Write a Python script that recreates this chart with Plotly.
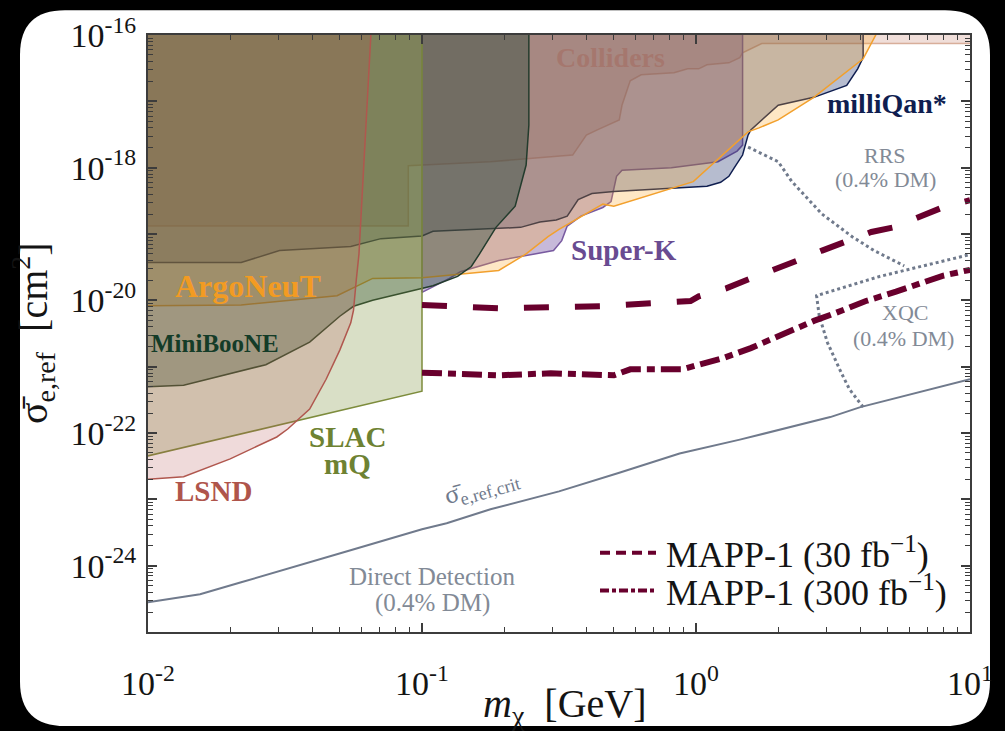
import numpy as np
import plotly.graph_objects as go

# ---------------- data (log10 of m_chi [GeV], log10 of sigma [cm^2]) ----------------
coll_x = [-2.0, -1.05, -1.05, -0.75, -0.45, -0.40, -0.36, -0.28, -0.27, -0.25, -0.24, -0.20, -0.08, -0.03, 0.01, 0.04, 0.12, 0.16, 0.17, 0.24, 1.0]
coll_y = [-18.88, -18.88, -17.97, -17.91, -17.81, -17.51, -17.43, -17.28, -17.06, -16.81, -16.69, -16.60, -16.57, -16.51, -16.51, -16.45, -16.42, -16.34, -16.27, -16.13, -16.13]

mq_x = [-2.0, -1.66, -1.52, -1.26, -1.15, -1.00, -0.96, -0.64, -0.57, -0.51, -0.47, -0.43, -0.38, -0.30, -0.09, 0.04, 0.09, 0.12, 0.14, 0.17, 0.19, 0.20, 0.30, 0.43, 0.55, 0.59, 0.61, 0.61]
mq_y = [-19.43, -19.43, -19.25, -19.19, -19.07, -19.03, -18.96, -18.90, -18.82, -18.79, -18.73, -18.48, -18.39, -18.36, -18.31, -18.28, -18.22, -18.13, -18.00, -17.81, -17.51, -17.43, -17.06, -16.94, -16.76, -16.51, -16.34, -16.0]

argo_x = [-2.0, -1.66, -1.31, -1.18, -1.00, -0.72, -0.62, -0.54, -0.50, -0.34, -0.30, -0.01, 0.19, 0.23, 0.30, 0.43, 0.61, 0.72]
argo_y = [-20.09, -20.07, -19.93, -19.67, -19.66, -19.55, -19.30, -19.04, -18.93, -18.55, -18.58, -18.21, -17.46, -17.40, -17.28, -16.94, -16.36, -16.0]

sk_x = [-1.00, -0.90, -0.86, -0.72, -0.52, -0.49, -0.47, -0.42, -0.34, -0.31, -0.29, -0.27, -0.09, 0.08, 0.15, 0.17, 0.17]
sk_y = [-19.88, -19.67, -19.57, -19.40, -19.25, -19.10, -18.88, -18.73, -18.60, -18.51, -18.13, -18.04, -18.00, -17.91, -17.75, -17.66, -16.0]

mb_x = [-2.0, -1.87, -1.57, -1.41, -1.30, -1.25, -1.18, -1.00, -0.96, -0.87, -0.82, -0.79, -0.73, -0.66, -0.62, -0.61, -0.61]
mb_y = [-21.34, -21.28, -20.97, -20.63, -20.24, -20.09, -20.00, -19.82, -19.78, -19.64, -19.49, -19.30, -18.90, -18.58, -17.96, -17.36, -16.0]

slac_x = [-2.0, -1.0, -1.0]
slac_y = [-22.54, -21.37, -16.0]

lsnd_x = [-2.0, -1.87, -1.70, -1.53, -1.49, -1.41, -1.35, -1.30, -1.26, -1.25, -1.24, -1.23, -1.18]
lsnd_y = [-22.75, -22.66, -22.39, -22.06, -21.94, -21.64, -21.19, -20.75, -20.34, -20.15, -19.70, -19.30, -16.0]

mapp30_x = [-1.0, -0.72, -0.35, -0.17, -0.02, 0.01, 0.11, 0.20, 0.30, 0.37, 0.46, 0.55, 0.64, 0.72, 0.82, 0.90, 1.0]
mapp30_y = [-20.07, -20.12, -20.09, -20.04, -20.01, -19.94, -19.82, -19.67, -19.52, -19.40, -19.25, -19.12, -18.97, -18.90, -18.73, -18.60, -18.49]

mapp300_x = [-1.0, -0.91, -0.72, -0.53, -0.35, -0.30, -0.28, -0.24, -0.17, -0.05, 0.01, 0.10, 0.20, 0.31, 0.43, 0.51, 0.62, 0.73, 0.82, 0.90, 1.0]
mapp300_y = [-21.09, -21.10, -21.13, -21.10, -21.12, -21.13, -21.10, -21.04, -21.04, -21.04, -20.97, -20.87, -20.72, -20.52, -20.31, -20.19, -20.01, -19.87, -19.75, -19.63, -19.54]

dd_x = [-2.0, -1.81, -1.66, -1.45, -1.27, -1.00, -0.91, -0.75, -0.50, -0.28, -0.06, 0.16, 0.49, 0.60, 1.0]
dd_y = [-24.55, -24.43, -24.25, -24.00, -23.78, -23.45, -23.36, -23.15, -22.88, -22.60, -22.31, -22.10, -21.76, -21.61, -21.19]

rrs_x = [0.19, 0.30, 0.35, 0.46, 0.57, 0.65, 0.76]
rrs_y = [-17.69, -17.91, -18.21, -18.70, -19.04, -19.25, -19.48]

xqc_x = [0.61, 0.56, 0.53, 0.48, 0.45, 0.44, 0.67, 0.99, 1.0]
xqc_y = [-21.61, -21.34, -21.09, -20.64, -20.24, -19.93, -19.64, -19.33, -19.31]

y_tick_exp = [-25, -24, -23, -22, -21, -20, -19, -18, -17, -16]
x_tick_exp = [-2, -1, 0, 1]

legend_names = ["MAPP-1 (30 fb<sup>−1</sup>)", "MAPP-1 (300 fb<sup>−1</sup>)"]

SERIF = "Liberation Serif, DejaVu Serif, serif"
TOP = -15.5


def poly_top(xs, ys):
    # lower boundary; close upward through top of plot
    px = list(xs)
    py = list(ys)
    if px[0] <= -2.0:
        px[0] = -2.2
    if py[-1] >= -16.0:
        py[-1] = TOP
    else:
        px.append(px[-1] + (0.2 if px[-1] >= 1.0 else 0))
        py.append(py[-1])
        px.append(px[-1])
        py.append(TOP)
    px.append(px[0])
    py.append(TOP)
    px.append(px[0])
    py.append(py[0])
    return [10 ** v for v in px], [10 ** v for v in py]


fig = go.Figure()

regions = [
    (coll_x, coll_y, "rgba(200,135,120,0.28)", "rgba(195,130,100,0.6)", 1.5),
    (sk_x, sk_y, "rgba(100,60,150,0.36)", "rgba(120,90,160,1)", 1.5),
    (mq_x, mq_y, "rgba(20,40,100,0.31)", "rgba(15,30,80,1)", 1.5),
    (argo_x, argo_y, "rgba(250,165,40,0.27)", "rgba(242,160,45,1)", 1.5),
    (mb_x, mb_y, "rgba(30,65,50,0.38)", "rgba(35,60,45,1)", 1.5),
    (slac_x, slac_y, "rgba(120,140,50,0.28)", "rgba(125,140,60,1)", 1.5),
    (lsnd_x, lsnd_y, "rgba(180,80,80,0.21)", "rgba(176,87,78,1)", 1.5),
]
for xs, ys, fc, lc, lw in regions:
    px, py = poly_top(xs, ys)
    fig.add_trace(go.Scatter(x=px, y=py, mode="lines", fill="toself", fillcolor=fc,
                             line=dict(color=lc, width=lw), showlegend=False, hoverinfo="skip"))

GRAY = "rgb(112,122,140)"
fig.add_trace(go.Scatter(x=[10 ** v for v in dd_x], y=[10 ** v for v in dd_y], mode="lines",
                         line=dict(color=GRAY, width=2), showlegend=False))
fig.add_trace(go.Scatter(x=[10 ** v for v in rrs_x], y=[10 ** v for v in rrs_y], mode="lines",
                         line=dict(color=GRAY, width=3, dash="3px,3px"), showlegend=False))
fig.add_trace(go.Scatter(x=[10 ** v for v in xqc_x], y=[10 ** v for v in xqc_y], mode="lines",
                         line=dict(color=GRAY, width=3, dash="3px,3px"), showlegend=False))

WINE = "rgb(105,0,45)"
DASH30 = "25px,26px"
DASH300 = "20px,6px,8px,6px"
fig.add_trace(go.Scatter(x=[10 ** v for v in mapp30_x], y=[10 ** v for v in mapp30_y], mode="lines",
                         line=dict(color=WINE, width=6, dash=DASH30), name=legend_names[0], showlegend=False))
fig.add_trace(go.Scatter(x=[10 ** v for v in mapp300_x], y=[10 ** v for v in mapp300_y], mode="lines",
                         line=dict(color=WINE, width=6, dash=DASH300), name=legend_names[1], showlegend=False))

# ---------------- layout helpers ----------------
W, H = 1005, 731
L, R, T, B = 148, 970, 29, 632


def px2paper(x, y):
    return (x - L) / (R - L), (B - y) / (B - T)


def plabel(text, x, y, color, size, bold=False, angle=0, xanchor="center"):
    t = f"<b>{text}</b>" if bold else text
    a, b = px2paper(x, y)
    fig.add_annotation(x=a, y=b, xref="paper", yref="paper", text=t, showarrow=False,
                       xanchor=xanchor, yanchor="middle",
                       font=dict(family=SERIF, size=size, color=color), textangle=angle)


LG = "rgb(130,138,150)"
plabel("Colliders", 610, 52, "rgba(165,115,105,0.8)", 28, True)
plabel("milliQan*", 887, 98, "rgb(15,30,80)", 28, True)
plabel("RRS", 885, 151, LG, 22)
plabel("(0.4% DM)", 885, 175, LG, 22)
plabel("Super-K", 624, 246, "rgb(105,75,145)", 29, True)
plabel("ArgoNeuT", 248, 283, "rgb(242,155,35)", 32, True)
plabel("MiniBooNE", 215, 341, "rgb(20,60,40)", 25, True)
plabel("SLAC", 347, 435, "rgb(110,130,50)", 29, True)
plabel("mQ", 347, 462, "rgb(110,130,50)", 29, True)
plabel("LSND", 213, 490, "rgb(175,85,75)", 29, True)
plabel("XQC", 905, 309, LG, 22)
plabel("(0.4% DM)", 903, 336, LG, 22)
plabel("σ̄<sub>e,ref,crit</sub>", 482, 486, GRAY, 26, angle=-16)
plabel("Direct Detection", 432, 576, LG, 25)
plabel("(0.4% DM)", 432, 603, LG, 25)

# legend drawn by hand
for i, (nm, dsh) in enumerate(zip(legend_names, ["10px,6px", "9px,3px,4px,3px"])):
    yy = 552 + 38 * i
    a0, b0 = px2paper(600, yy)
    a1, _ = px2paper(656, yy)
    fig.add_shape(type="line", xref="paper", yref="paper", x0=a0, x1=a1, y0=b0, y1=b0,
                  line=dict(color=WINE, width=4, dash=dsh))
    plabel(nm, 664, yy, "rgb(20,20,20)", 36, xanchor="left")


def rounded(x0, y0, x1, y1, r):
    def P(x, y):
        a, b = px2paper(x, y)
        return f"{a:.5f},{b:.5f}"
    d = f"M {P(x0 + r, y0)} L {P(x1 - r, y0)} Q {P(x1, y0)} {P(x1, y0 + r)} "
    d += f"L {P(x1, y1 - r)} Q {P(x1, y1)} {P(x1 - r, y1)} "
    d += f"L {P(x0 + r, y1)} Q {P(x0, y1)} {P(x0, y1 - r)} "
    d += f"L {P(x0, y0 + r)} Q {P(x0, y0)} {P(x0 + r, y0)} Z"
    return d


fig.add_shape(type="path", xref="paper", yref="paper", path=rounded(20, 4, 990, 727, 45),
              fillcolor="white", line=dict(width=0), layer="below")

# axis titles
plabel("<i>m</i><sub>χ</sub>  [GeV]", 565, 707, "rgb(20,20,20)", 40)
plabel("σ̄<sub>e,ref</sub>  [cm<sup>2</sup>]", 33, 330, "rgb(20,20,20)", 40, angle=-90)

minor_digits = [2, 3, 4, 5, 6, 7, 8, 9]
x_minor = [d * 10.0 ** e for e in x_tick_exp[:-1] for d in minor_digits]
y_minor = [d * 10.0 ** e for e in y_tick_exp[:-1] for d in minor_digits]

axis_common = dict(type="log", showgrid=False, zeroline=False, showline=True, mirror="ticks",
                   linecolor="rgb(60,60,60)", linewidth=2, ticks="inside", ticklen=9, tickwidth=1.5,
                   tickcolor="rgb(60,60,60)", tickfont=dict(family=SERIF, size=34, color="rgb(20,20,20)"))

fig.update_layout(
    width=W, height=H,
    margin=dict(l=L, r=W - R, t=T, b=H - B),
    paper_bgcolor="black", plot_bgcolor="rgba(0,0,0,0)",
    xaxis=dict(**axis_common, range=[-2, 1],
               tickvals=[10.0 ** e for e in x_tick_exp],
               ticktext=[f"10<sup>{e}</sup>" for e in x_tick_exp],
               ticklabelstandoff=20,
               minor=dict(tickmode="array", tickvals=x_minor, ticks="inside", ticklen=5,
                          tickcolor="rgb(60,60,60)", tickwidth=1.2)),
    yaxis=dict(**axis_common, range=[-25, -16],
               tickvals=[10.0 ** e for e in y_tick_exp],
               ticktext=[f"10<sup>{e}</sup>" if e % 2 == 0 else "" for e in y_tick_exp],
               ticklabelstandoff=3,
               minor=dict(tickmode="array", tickvals=y_minor, ticks="inside", ticklen=5,
                          tickcolor="rgb(60,60,60)", tickwidth=1.2)),
    showlegend=False,
)

fig.write_html("out.html", config={"displayModeBar": False},
               post_script="document.body.style.margin='0px';document.body.style.background='black';")
